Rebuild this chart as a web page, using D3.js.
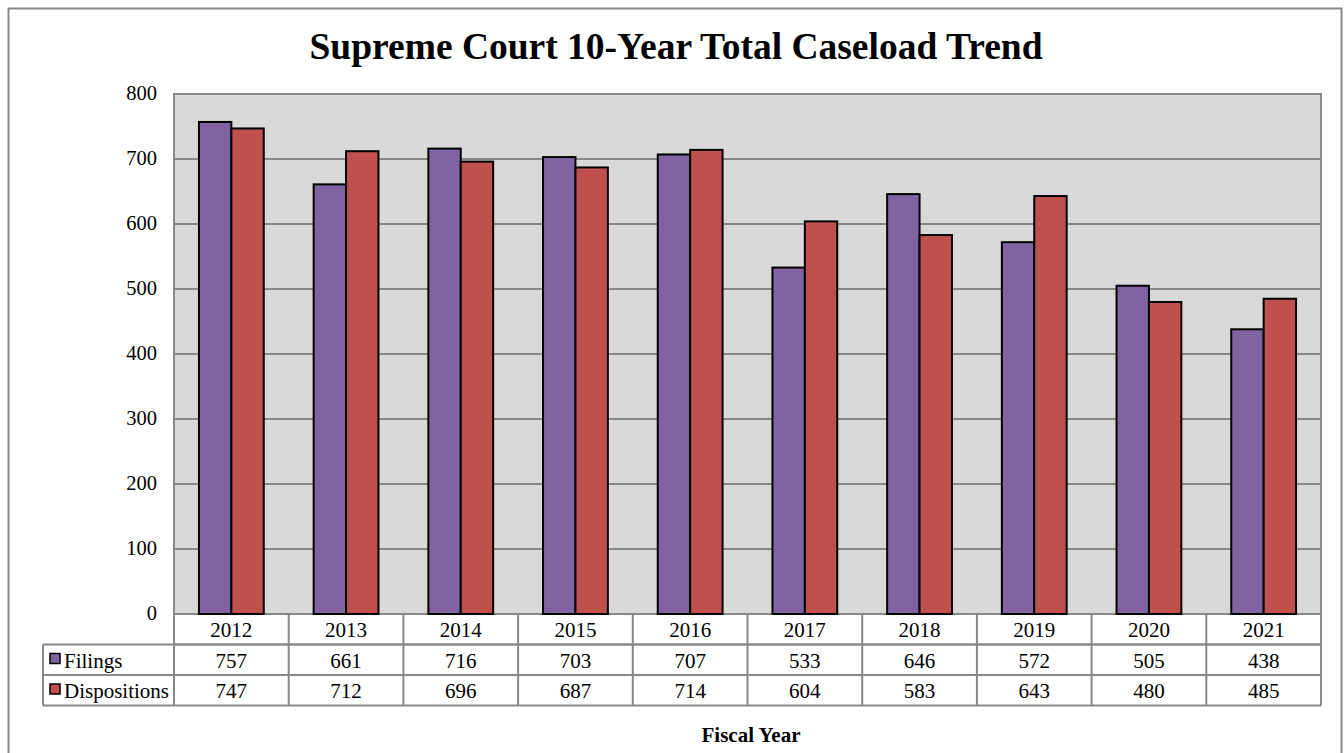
<!DOCTYPE html>
<html>
<head>
<meta charset="utf-8">
<script src="https://cdn.jsdelivr.net/npm/d3@7"></script>
<style>
  body { margin: 0; background: #fff; }
  text { font-family: "Liberation Serif", "Times New Roman", serif; }
</style>
</head>
<body>
<div id="maindiv"></div>
<script>
// chart data
var years = ["2012", "2013", "2014", "2015", "2016", "2017", "2018", "2019", "2020", "2021"];
var filings = [757, 661, 716, 703, 707, 533, 646, 572, 505, 438];
var dispositions = [747, 712, 696, 687, 714, 604, 583, 643, 480, 485];
var seriesNames = ["Filings", "Dispositions"];
var yTicks = [0, 100, 200, 300, 400, 500, 600, 700, 800];

var width = 1344, height = 753;
var margin = { top: 94, left: 174, right: 23, bottom: 139 };
var colors = ["#8064a2", "#c0504d"];
var gray = "#888888";

var svg = d3.select("#maindiv").append("svg")
    .attr("width", width)
    .attr("height", height);

// outer frame
svg.append("rect")
    .attr("x", 8.5).attr("y", 8.5)
    .attr("width", 1333).attr("height", 760)
    .attr("fill", "none").attr("stroke", gray).attr("stroke-width", 2);

svg.append("text")
    .attr("x", 676).attr("y", 59)
    .attr("text-anchor", "middle")
    .attr("font-size", 37.5).attr("font-weight", "bold")
    .text("Supreme Court 10-Year Total Caseload Trend");

var x = d3.scaleBand()
    .domain(years)
    .range([margin.left, width - margin.right]);

var xs = d3.scaleBand()
    .domain(seriesNames)
    .range([0, x.bandwidth()])
    .paddingInner(0)
    .paddingOuter(0.77);

var y = d3.scaleLinear()
    .domain([0, 800])
    .range([height - margin.bottom, margin.top]);

// plot area
svg.append("rect")
    .attr("x", margin.left).attr("y", margin.top)
    .attr("width", width - margin.right - margin.left)
    .attr("height", y(0) - margin.top)
    .attr("fill", "#d9d9d9");

svg.append("g")
    .selectAll("line")
    .data(yTicks.slice(1, -1))
    .enter().append("line")
    .attr("x1", margin.left).attr("x2", width - margin.right)
    .attr("y1", d => y(d)).attr("y2", d => y(d))
    .attr("stroke", gray).attr("stroke-width", 2);

svg.append("rect")
    .attr("x", margin.left).attr("y", margin.top)
    .attr("width", width - margin.right - margin.left)
    .attr("height", y(0) - margin.top)
    .attr("fill", "none").attr("stroke", gray).attr("stroke-width", 2);

// y axis labels
svg.append("g")
    .selectAll("text")
    .data(yTicks)
    .enter().append("text")
    .attr("x", 157)
    .attr("y", d => y(d) + 6)
    .attr("text-anchor", "end")
    .attr("font-size", 20.5)
    .text(d => d);

// bars
var table = years.map((yr, i) => ({ year: yr, values: [filings[i], dispositions[i]] }));

var groups = svg.append("g")
    .selectAll("g")
    .data(table)
    .enter().append("g")
    .attr("transform", d => `translate(${x(d.year)},0)`);

groups.selectAll("rect")
    .data(d => d.values.map((v, k) => ({ name: seriesNames[k], value: v, k: k })))
    .enter().append("rect")
    .attr("x", d => xs(d.name))
    .attr("y", d => y(d.value))
    .attr("width", xs.bandwidth())
    .attr("height", d => y(0) - y(d.value))
    .attr("fill", d => colors[d.k])
    .attr("stroke", "#000").attr("stroke-width", 2);

// data table
var rowH = 30.5;
var tTop = y(0);
var tLeft = 43;
var tRight = width - margin.right;
var tg = svg.append("g");

// year header row
tg.selectAll(".yr")
    .data(years)
    .enter().append("text")
    .attr("x", d => x(d) + x.bandwidth() / 2)
    .attr("y", tTop + rowH / 2 + 8)
    .attr("text-anchor", "middle")
    .attr("font-size", 21)
    .text(d => d);

var rowsData = [filings, dispositions];
rowsData.forEach(function (vals, r) {
    var ry = tTop + rowH * (r + 1);
    tg.selectAll(".v" + r)
        .data(vals)
        .enter().append("text")
        .attr("x", (d, i) => x(years[i]) + x.bandwidth() / 2)
        .attr("y", ry + rowH / 2 + 8)
        .attr("text-anchor", "middle")
        .attr("font-size", 21)
        .text(d => d);
    tg.append("rect")
        .attr("x", 50).attr("y", ry + 9)
        .attr("width", 10).attr("height", 10)
        .attr("fill", colors[r]).attr("stroke", "#000").attr("stroke-width", 1.5);
    tg.append("text")
        .attr("x", 64).attr("y", ry + rowH / 2 + 8)
        .attr("font-size", 21)
        .text(seriesNames[r]);
});

// table grid lines
var hl = [
    [margin.left, tTop + rowH],
    [tLeft, tTop + rowH],
    [tLeft, tTop + rowH * 2],
    [tLeft, tTop + rowH * 3]
];
hl.forEach(function (h) {
    tg.append("line")
        .attr("x1", h[0]).attr("x2", tRight)
        .attr("y1", h[1]).attr("y2", h[1])
        .attr("stroke", gray).attr("stroke-width", 2);
});
var vx = years.map(d => x(d)).concat([tRight]);
tg.selectAll(".vl")
    .data(vx)
    .enter().append("line")
    .attr("x1", d => d).attr("x2", d => d)
    .attr("y1", tTop).attr("y2", tTop + rowH * 3)
    .attr("stroke", gray).attr("stroke-width", 2);
tg.append("line")
    .attr("x1", tLeft).attr("x2", tLeft)
    .attr("y1", tTop + rowH).attr("y2", tTop + rowH * 3)
    .attr("stroke", gray).attr("stroke-width", 2);

svg.append("text")
    .attr("x", 751).attr("y", 742)
    .attr("text-anchor", "middle")
    .attr("font-size", 21).attr("font-weight", "bold")
    .text("Fiscal Year");
</script>
</body>
</html>
